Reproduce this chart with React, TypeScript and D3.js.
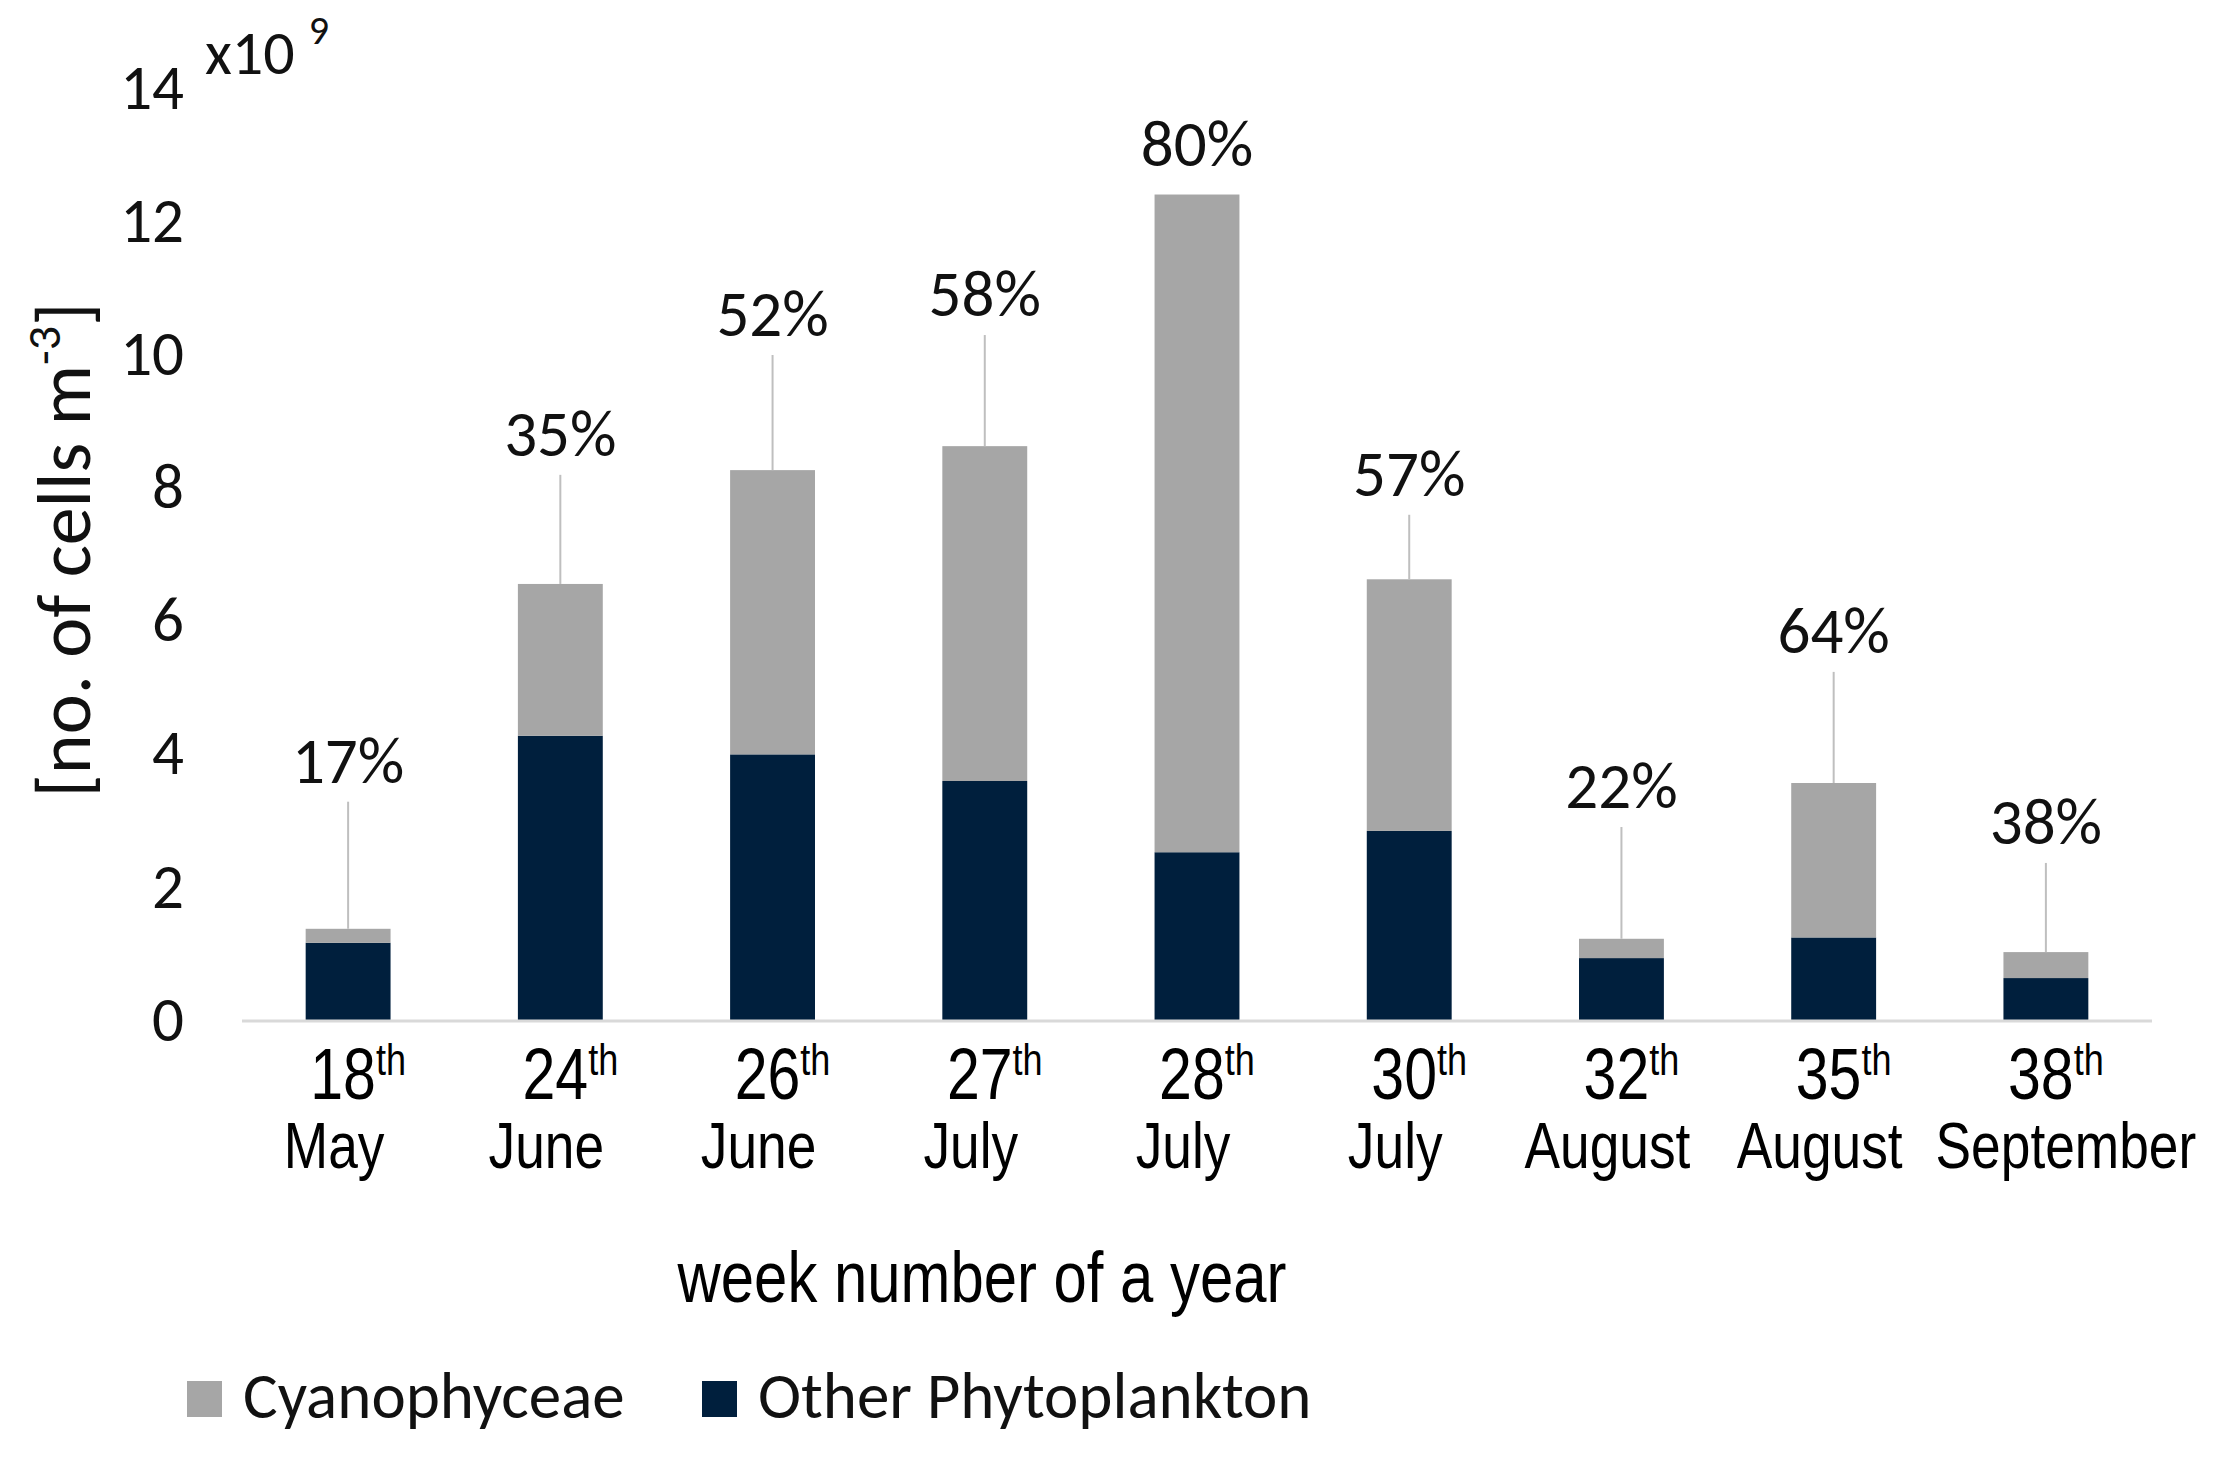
import React, { useEffect, useRef } from "react";
import * as d3 from "d3";

// week number and month under each bar
const weeks = ["18", "24", "26", "27", "28", "30", "32", "35", "38"];
const months = ["May", "June", "June", "July", "July", "July", "August", "August", "September"];

// cells m-3, x10^9
const otherPhyto = [1.16, 4.27, 3.99, 3.59, 2.52, 2.84, 0.93, 1.24, 0.63];
const cyano = [0.21, 2.28, 4.27, 5.03, 9.88, 3.78, 0.29, 2.32, 0.39];

// share of Cyanophyceae and the level (in axis units) of each callout
const shareLabels = ["17%", "35%", "52%", "58%", "80%", "57%", "22%", "64%", "38%"];
const calloutLevel = [3.91, 8.82, 10.62, 10.92, 13.18, 8.22, 3.53, 5.86, 2.99];

const yTicks = [0, 2, 4, 6, 8, 10, 12, 14];

const W = 2227;
const H = 1458;
const GREY = "#A6A6A6";
const NAVY = "#001F3D";
const CAL = "Carlito, Calibri, Lato, sans-serif";
const NARROW = "'Liberation Sans', Arial, sans-serif";
const SQUEEZE = 0.82; // narrow look for the category labels

const App: React.FC = () => {
  const svgRef = useRef<SVGSVGElement | null>(null);

  useEffect(() => {
    document.body.style.margin = "0";
    if (!svgRef.current) return;
    const svg = d3.select(svgRef.current);
    svg.selectAll("*").remove();

    const rows = weeks.map((w, i) => ({ week: w, other: otherPhyto[i], cyano: cyano[i] }));

    const x = d3
      .scaleBand<string>()
      .domain(weeks)
      .range([242, 2152])
      .paddingInner(0.6)
      .paddingOuter(0.3);
    const y = d3.scaleLinear().domain([0, 14]).range([1020, 88]);

    // y axis labels
    const yAxis = svg
      .append("g")
      .attr("transform", `translate(242,0)`)
      .call(d3.axisLeft(y).tickValues(yTicks).tickSize(0).tickPadding(58).tickFormat(d3.format("d")));
    yAxis.select(".domain").remove();
    yAxis
      .selectAll("text")
      .attr("font-family", CAL)
      .attr("font-size", 63)
      .attr("fill", "#111");

    // x10^9 multiplier
    const mult = svg
      .append("text")
      .attr("x", 205)
      .attr("y", 74)
      .attr("font-family", CAL)
      .attr("font-size", 62)
      .attr("fill", "#111");
    mult.append("tspan").text("x10 ");
    mult.append("tspan").attr("font-size", 40).attr("dy", -30).text("9");

    // stacked bars
    const stack = d3.stack<any>().keys(["other", "cyano"]);
    const series = stack(rows);
    const colors: Record<string, string> = { other: NAVY, cyano: GREY };

    svg
      .append("g")
      .selectAll("g")
      .data(series)
      .join("g")
      .attr("fill", (s) => colors[s.key])
      .selectAll("rect")
      .data((s) => s)
      .join("rect")
      .attr("x", (d) => x(d.data.week)!)
      .attr("width", x.bandwidth())
      .attr("y", (d) => y(d[1]))
      .attr("height", (d) => y(d[0]) - y(d[1]));

    // baseline
    svg
      .append("line")
      .attr("x1", 242)
      .attr("x2", 2152)
      .attr("y1", y(0) + 1)
      .attr("y2", y(0) + 1)
      .attr("stroke", "#D9D9D9")
      .attr("stroke-width", 3);

    // callouts
    const cx = (i: number) => x(weeks[i])! + x.bandwidth() / 2;
    const totals = rows.map((r) => r.other + r.cyano);
    const lab = svg.append("g");
    shareLabels.forEach((s, i) => {
      const ly = y(calloutLevel[i]);
      const top = y(totals[i]);
      if (top - (ly + 42) > 20) {
        lab
          .append("line")
          .attr("x1", cx(i))
          .attr("x2", cx(i))
          .attr("y1", ly + 42)
          .attr("y2", top)
          .attr("stroke", "#BFBFBF")
          .attr("stroke-width", 2);
      }
      lab
        .append("text")
        .attr("x", cx(i))
        .attr("y", ly)
        .attr("dy", "0.36em")
        .attr("text-anchor", "middle")
        .attr("font-family", CAL)
        .attr("font-size", 65)
        .attr("fill", "#111")
        .text(s);
    });

    // category labels (squeezed horizontally to look like a narrow face)
    const cat = svg.append("g").attr("fill", "#000").attr("font-family", NARROW);
    weeks.forEach((w, i) => {
      const t = cat
        .append("text")
        .attr("transform", `translate(${cx(i) + 10},1099) scale(${SQUEEZE},1)`)
        .attr("text-anchor", "middle")
        .attr("font-size", 72);
      t.append("tspan").text(w);
      t.append("tspan").attr("font-size", 44).attr("dy", -24).text("th");
      // the last month is pushed right, as in the original, so it clears its neighbour
      const shift = i === weeks.length - 1 ? 20 : -14;
      cat
        .append("text")
        .attr("transform", `translate(${cx(i) + shift},1168) scale(${SQUEEZE},1)`)
        .attr("text-anchor", "middle")
        .attr("font-size", 65)
        .text(months[i]);
    });

    // axis titles
    svg
      .append("text")
      .attr("transform", `translate(982,1302) scale(${SQUEEZE},1)`)
      .attr("text-anchor", "middle")
      .attr("font-family", NARROW)
      .attr("font-size", 73)
      .attr("fill", "#000")
      .text("week number of a year");

    const yt = svg
      .append("text")
      .attr("transform", `translate(90,550) rotate(-90)`)
      .attr("text-anchor", "middle")
      .attr("font-family", CAL)
      .attr("font-size", 76)
      .attr("fill", "#111");
    yt.append("tspan").text("[no. of cells m");
    yt.append("tspan").attr("font-size", 48).attr("dy", -30).text("-3");
    yt.append("tspan").attr("dy", 30).text("]");

    // legend
    const legend = [
      { name: "Cyanophyceae", color: GREY, x: 187 },
      { name: "Other Phytoplankton", color: NAVY, x: 702 },
    ];
    const lg = svg.append("g");
    legend.forEach((l) => {
      lg.append("rect")
        .attr("x", l.x)
        .attr("y", 1381)
        .attr("width", 35)
        .attr("height", 36)
        .attr("fill", l.color);
      lg.append("text")
        .attr("x", l.x + 56)
        .attr("y", 1418)
        .attr("font-family", CAL)
        .attr("font-size", 65)
        .attr("fill", "#111")
        .text(l.name);
    });
  }, []);

  return <svg ref={svgRef} width={W} height={H} style={{ display: "block", background: "#fff" }} />;
};

export default App;
